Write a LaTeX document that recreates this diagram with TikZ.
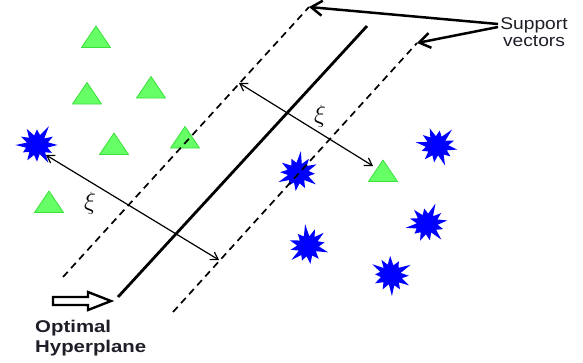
\documentclass[tikz,border=0pt]{standalone}
\usepackage{fontspec}
\newfontfamily\svfont[FakeStretch=1.13]{Liberation Sans}
\newfontfamily\ohfont[FakeStretch=1.2]{Liberation Sans}
\usetikzlibrary{arrows.meta}
\definecolor{trigreen}{RGB}{102,255,102}
\definecolor{triedge}{RGB}{60,225,60}
\definecolor{burstblue}{RGB}{0,0,255}
\definecolor{txt}{RGB}{30,30,40}
\begin{document}
\begin{tikzpicture}[x=1pt,y=-1pt,
  tri/.pic={\filldraw[fill=trigreen,draw=triedge,line width=0.8pt,line join=round]
     (-14.5,10.5)--(14.5,10.5)--(0,-11)--cycle;},
  burst/.pic={\fill[burstblue,xscale=1.08,yscale=0.98] (0:19)
     \foreach \a/\r in {15/10,30/16,45/10.5,60/21,75/9.5,90/17,105/10.5,120/18,135/10,
       150/15,165/10.5,180/20,195/9.5,210/17,225/10.5,240/19,255/10,270/16,285/10.5,
       300/22,315/9.5,330/17,345/10.5}{--(\a:\r)} -- cycle;},
  margin/.style={line width=1.7pt,dash pattern=on 7pt off 5pt},
  hyper/.style={line width=2.8pt},
  xiarrow/.style={line width=1.2pt,{Straight Barb[length=7pt,width=9pt]}-{Straight Barb[length=7pt,width=9pt]}},
  svarrow/.style={line width=2.5pt,-{Straight Barb[length=11pt,width=15pt]}},
  xilabel/.style={font=\fontsize{29}{29}\selectfont,inner sep=0pt},
]
\useasboundingbox (0,0) rectangle (583,362);
% triangles
\pic at (96,37) {tri};
\pic at (87,93.5) {tri};
\pic at (151,87.5) {tri};
\pic at (114,144) {tri};
\pic at (185,137.5) {tri};
\pic at (49,202) {tri};
\pic at (383,171) {tri};
% bursts
\pic at (37,145) {burst};
\pic[rotate=25] at (298,173) {burst};
\pic[rotate=-10] at (437,146) {burst};
\pic[rotate=40] at (308,246) {burst};
\pic[rotate=10] at (427,224) {burst};
\pic[rotate=-30] at (391,275) {burst};
% lines
\coordinate (l1a) at (63,277);
\coordinate (l1b) at (309,7);
\coordinate (ha) at (118,297);
\coordinate (hb) at (367,26);
\coordinate (l2a) at (173,312);
\coordinate (l2b) at (417,43);
\draw[margin] (l1a) -- (l1b);
\draw[margin] (l2a) -- (l2b);
\draw[hyper] (ha) -- (hb);
% xi arrows
\coordinate (x1a) at (239,83);
\coordinate (x1b) at (373,166);
\coordinate (x2a) at (46,155);
\coordinate (x2b) at (219,260);
\draw[xiarrow] (x1a) -- (x1b);
\draw[xiarrow] (x2a) -- (x2b);
\node[xilabel] (xi1) at (320,116) {$\xi$};
\node[xilabel] (xi2) at (90,203) {$\xi$};
% support vectors
\node[font=\svfont\fontsize{17}{17}\selectfont,text=txt,align=center,inner sep=0pt,anchor=north]
  (sv) at (534,17.5) {Support\\vectors};
\coordinate (sva) at (498,24);
\coordinate (svb) at (498,27);
\draw[svarrow] (sva) -- (l1b);
\draw[svarrow] (svb) -- (l2b);
% optimal hyperplane
\draw[line width=2.4pt,fill=white,line join=miter] (53,297) -- (88,297) -- (88,292) -- (111,301)
  -- (88,310) -- (88,305) -- (53,305) -- cycle;
\node[font=\ohfont\bfseries\fontsize{17}{20}\selectfont,text=txt,align=left,inner sep=0pt,anchor=north west]
  (oh) at (35,319.5) {Optimal\\Hyperplane};
\end{tikzpicture}
\end{document}
